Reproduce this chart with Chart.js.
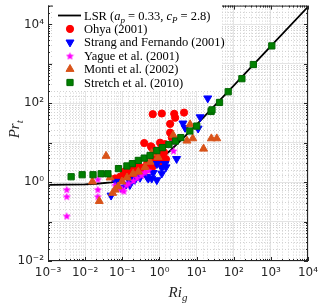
<!DOCTYPE html>
<html>
<head>
<meta charset="utf-8">
<script src="https://cdn.jsdelivr.net/npm/chart.js@4/dist/chart.umd.min.js"></script>
<style>
  html, body { margin: 0; padding: 0; background: #fff; }
  canvas { display: block; }
</style>
</head>
<body>
<canvas id="c" width="320" height="305"></canvas>
<script>
/* ---------------- Data ---------------- */
// LSR curve, Ri_g vs Pr_t
const lsrRi = [1e-3, 3e-3, 1e-2, 2e-2, 5e-2, 0.1, 0.2, 0.3, 0.5, 1, 2, 5, 10, 100, 1000, 1e4];
const lsrPr = [0.85, 0.86, 0.88, 0.91, 0.99, 1.13, 1.41, 1.69, 2.25, 3.65, 6.45, 14.9, 28.9, 281, 2800, 28000];

// [Ri_g, Pr_t]
const ohya = [
  [0.064, 1.24], [0.087, 1.37], [0.11, 1.63], [0.143, 1.45], [0.17, 1.83], [0.21, 1.63],
  [0.25, 2.05], [0.3, 1.83], [0.36, 2.3], [0.44, 2.05], [0.53, 2.9], [0.64, 2.4],
  [0.76, 3.6], [0.92, 3.25], [1.1, 4.3], [1.33, 5.7], [1.5, 3.85], [0.85, 5.7],
  [0.62, 7.6], [0.39, 9.8], [0.59, 8.1], [1.04, 10], [1.42, 9.2], [1.94, 18],
  [2.15, 13.5], [1.94, 30], [2.65, 43], [0.66, 53], [1.16, 55], [2.5, 54], [4.6, 58],
  [0.12, 1.9], [0.19, 2.2], [0.28, 2.6], [0.47, 3.0], [0.7, 4.6], [1.0, 6.5], [1.2, 2.9]
];
const strang = [
  [0.05, 0.46], [0.067, 1.03], [0.093, 0.73], [0.126, 0.87], [0.16, 0.85], [0.16, 1.03],
  [0.22, 1.15], [0.3, 1.3], [0.46, 1.37], [0.5, 1.24], [0.62, 1.24], [0.85, 1.13],
  [0.68, 1.72], [1.16, 1.66], [1.5, 2.4], [2.9, 3.9], [0.85, 2.9], [1.42, 2.9],
  [1.16, 2.3], [4.3, 31], [4.9, 24], [11, 23], [12.5, 44.6], [20, 134]
];
const yague = [
  [0.0032, 0.66], [0.0032, 0.44], [0.0032, 0.14], [0.022, 1.2], [0.022, 0.66], [0.022, 0.44],
  [0.064, 0.85], [0.075, 0.7], [0.087, 0.75], [0.1, 0.65], [0.11, 0.6], [0.13, 0.85],
  [0.15, 0.95], [0.2, 1.1], [0.25, 1.3], [0.33, 1.5], [0.4, 1.8], [0.5, 2.0],
  [2.3, 10.6], [2.4, 6.3]
];
const monti = [
  [0.0157, 1.03], [0.024, 0.33], [0.0366, 4.6], [0.047, 1.3], [0.055, 0.53], [0.064, 0.64],
  [0.077, 0.77], [0.098, 1.03], [0.134, 1.3], [0.195, 1.63], [0.27, 1.83], [0.41, 2.4],
  [0.56, 3.25], [0.62, 5.4], [0.92, 4.3], [2.35, 15.5], [5.5, 11.2], [6.7, 29],
  [7.9, 12.8], [15.4, 7], [25, 12.8], [35, 12.8]
];
const stretch = [
  [0.0042, 1.37], [0.0083, 1.54], [0.0163, 1.54], [0.027, 1.63], [0.041, 1.63],
  [0.079, 2.2], [0.133, 2.57], [0.187, 2.94], [0.27, 3.56], [0.39, 4.07], [0.56, 4.74],
  [0.85, 6.3], [1.2, 7.5], [1.8, 9], [2.7, 11], [3.76, 13.5], [6.6, 19.8], [10.1, 26.4],
  [24.6, 62], [26, 68], [41.5, 105], [71, 196], [166, 420], [338, 960], [1060, 2850]
];

const xMin = 1e-3, xMax = 1e4;
const yMin = 1e-2, yMax = 3e4;

/* ---------------- Helpers ---------------- */
const pts = arr => arr.map(([x, y]) => ({ x, y }));
const isPow10 = v => { const e = Math.log10(v); return Math.abs(e - Math.round(e)) < 1e-6; };
const SUP = { '-': '⁻', '0': '⁰', '1': '¹', '2': '²', '3': '³', '4': '⁴' };
function powLabel(v, step) {
  if (!isPow10(v)) return '';
  const r = Math.round(Math.log10(v));
  if (r % step) return '';
  return '10' + String(r).split('').map(c => SUP[c]).join('');
}
function starImage(size, color) {
  const c = document.createElement('canvas');
  c.width = c.height = size;
  const g = c.getContext('2d');
  const r = size / 2, ri = r * 0.42;
  g.beginPath();
  for (let i = 0; i < 10; i++) {
    const a = -Math.PI / 2 + i * Math.PI / 5;
    const rr = i % 2 ? ri : r - 0.3;
    g.lineTo(r + rr * Math.cos(a), r + 0.6 + rr * Math.sin(a));
  }
  g.closePath();
  g.fillStyle = color; g.fill();
  return c;
}

const RED = '#ff0000', BLUE = '#0000ff', MAGENTA = '#ff00ff', ORANGE = '#d95319', GREEN = '#008000';
const starImg = starImage(9, MAGENTA);

// LSR label with math parts
const lsrLabel = [
  { t: 'LSR (' }, { t: 'a', it: 1 }, { t: 'p', it: 1, sub: 1 }, { t: ' = 0.33, ' },
  { t: 'c', it: 1 }, { t: 'P', it: 1, sub: 1 }, { t: ' = 2.8)' }
];

function drawRich(ctx, segs, x, y, size, family) {
  ctx.textBaseline = 'alphabetic';
  ctx.textAlign = 'left';
  segs.forEach(s => {
    const fs = s.sub ? Math.round(size * 0.72) : size;
    ctx.font = `${s.it ? 'italic ' : ''}${fs}px ${family}`;
    ctx.fillText(s.t, x, y + (s.sub ? size * 0.25 : 0));
    x += ctx.measureText(s.t).width;
  });
  return x;
}

/* ---------------- Frame, inner ticks, legend, axis titles ---------------- */
const extras = {
  id: 'extras',
  afterDraw(chart) {
    const { ctx, chartArea: a } = chart;
    const sx = chart.scales.x, sy = chart.scales.y;
    ctx.save();

    // inner tick marks on all four sides
    ctx.strokeStyle = '#262626'; ctx.lineWidth = 1;
    ctx.beginPath();
    for (let e = -3; e <= 4; e++) {
      for (let m = 1; m <= 9; m++) {
        const v = m * Math.pow(10, e);
        if (v < xMin || v > xMax) continue;
        const px = Math.round(sx.getPixelForValue(v)) + 0.5, len = m === 1 ? 4 : 2;
        ctx.moveTo(px, a.bottom); ctx.lineTo(px, a.bottom - len);
        ctx.moveTo(px, a.top); ctx.lineTo(px, a.top + len);
      }
    }
    for (let e = -2; e <= 4; e++) {
      for (let m = 1; m <= 9; m++) {
        const v = m * Math.pow(10, e);
        if (v < yMin || v > yMax) continue;
        const py = Math.round(sy.getPixelForValue(v)) + 0.5, len = m === 1 ? 4 : 2;
        ctx.moveTo(a.left, py); ctx.lineTo(a.left + len, py);
        ctx.moveTo(a.right, py); ctx.lineTo(a.right - len, py);
      }
    }
    ctx.stroke();

    // box
    ctx.strokeRect(a.left + 0.5, a.top + 0.5, a.right - a.left - 1, a.bottom - a.top - 1);

    // legend
    const lx = 53, ly = 4, lw = 169, lh = 87;
    ctx.fillStyle = '#fff';
    ctx.fillRect(lx, ly, lw, lh);
    const serif = '"Liberation Serif", "DejaVu Serif", serif';
    chart.data.datasets.forEach((ds, i) => {
      const cy = 15.5 + i * 13.4;
      const tx = 84;
      if (i === 0) {
        ctx.strokeStyle = '#000'; ctx.lineWidth = 1.8;
        ctx.beginPath(); ctx.moveTo(58, cy); ctx.lineTo(81, cy); ctx.stroke();
        ctx.fillStyle = '#000';
        drawRich(ctx, lsrLabel, tx, cy + 4, 12.5, serif);
      } else {
        ctx.fillStyle = ds.backgroundColor; ctx.strokeStyle = ds.borderColor; ctx.lineWidth = 1;
        Chart.helpers.drawPoint(ctx, {
          pointStyle: ds.pointStyle, rotation: ds.rotation || 0,
          radius: ds.pointRadius, borderWidth: 1
        }, 70, cy);
        ctx.fillStyle = '#000';
        drawRich(ctx, [{ t: ds.label }], tx, cy + 4, 12.5, serif);
      }
    });

    // axis titles
    ctx.fillStyle = '#262626';
    const cx = (a.left + a.right) / 2;
    ctx.font = 'italic 15px ' + serif;
    const wRi = ctx.measureText('Ri').width;
    ctx.font = 'italic 11px ' + serif;
    const wg = ctx.measureText('g').width;
    drawRich(ctx, [{ t: 'Ri', it: 1 }, { t: 'g', it: 1, sub: 1 }], cx - (wRi + wg) / 2, 297, 15, serif);

    ctx.save();
    ctx.translate(19, (a.top + a.bottom) / 2);
    ctx.rotate(-Math.PI / 2);
    ctx.font = 'italic 15px ' + serif;
    const wPr = ctx.measureText('Pr').width;
    ctx.font = 'italic 11px ' + serif;
    const wt = ctx.measureText('t').width;
    drawRich(ctx, [{ t: 'Pr', it: 1 }, { t: 't', it: 1, sub: 1 }], -(wPr + wt) / 2 + 4, 0, 15, serif);
    ctx.restore();

    ctx.restore();
  }
};

/* ---------------- Chart ---------------- */
const gridColor = c => (c.tick && isPow10(c.tick.value)) ? '#e4e4e4' : '#d2d2d2';
const gridDash = c => (c.tick && isPow10(c.tick.value)) ? [] : [1, 2];
const tickFont = { family: '"DejaVu Sans", "Liberation Sans", sans-serif', size: 12 };

new Chart(document.getElementById('c'), {
  type: 'scatter',
  data: {
    datasets: [
      { label: 'LSR', data: lsrRi.map((x, i) => ({ x, y: lsrPr[i] })), showLine: true,
        borderColor: '#000', backgroundColor: '#000', borderWidth: 1.8, pointRadius: 0, order: 5 },
      { label: 'Ohya (2001)', data: pts(ohya), pointStyle: 'circle', pointRadius: 3.6,
        backgroundColor: RED, borderColor: RED, borderWidth: 1, order: 4 },
      { label: 'Strang and Fernando (2001)', data: pts(strang), pointStyle: 'triangle', rotation: 180,
        pointRadius: 4.6, backgroundColor: BLUE, borderColor: BLUE, borderWidth: 1, order: 3 },
      { label: 'Yague et al. (2001)', data: pts(yague), pointStyle: starImg, pointRadius: 4.5,
        backgroundColor: MAGENTA, borderColor: MAGENTA, borderWidth: 0, order: 2 },
      { label: 'Monti et al. (2002)', data: pts(monti), pointStyle: 'triangle', pointRadius: 4.6,
        backgroundColor: ORANGE, borderColor: ORANGE, borderWidth: 1, order: 1 },
      { label: 'Stretch et al. (2010)', data: pts(stretch), pointStyle: 'rect', pointRadius: 4.4,
        backgroundColor: GREEN, borderColor: '#006400', borderWidth: 1, order: 0 }
    ]
  },
  options: {
    responsive: false,
    animation: false,
    layout: { padding: { top: 1, right: 12, left: 0, bottom: 0 } },
    plugins: { legend: { display: false }, tooltip: { enabled: false } },
    scales: {
      x: {
        type: 'logarithmic', min: xMin, max: xMax,
        grid: { color: gridColor, lineWidth: 1, drawTicks: false },
        border: { display: false, dash: gridDash },
        ticks: { autoSkip: false, maxRotation: 0, padding: 5, color: '#262626', font: tickFont,
                 callback: v => powLabel(v, 1) },
        afterFit: s => { s.height = 44; s.paddingLeft = 0; s.paddingRight = 0; }
      },
      y: {
        type: 'logarithmic', min: yMin, max: yMax,
        grid: { color: gridColor, lineWidth: 1, drawTicks: false },
        border: { display: false, dash: gridDash },
        ticks: { autoSkip: false, padding: 4, color: '#262626', font: tickFont,
                 callback: v => powLabel(v, 2) },
        afterFit: s => { s.width = 48; s.paddingTop = 0; s.paddingBottom = 0; }
      }
    }
  },
  plugins: [extras]
});
</script>
</body>
</html>
